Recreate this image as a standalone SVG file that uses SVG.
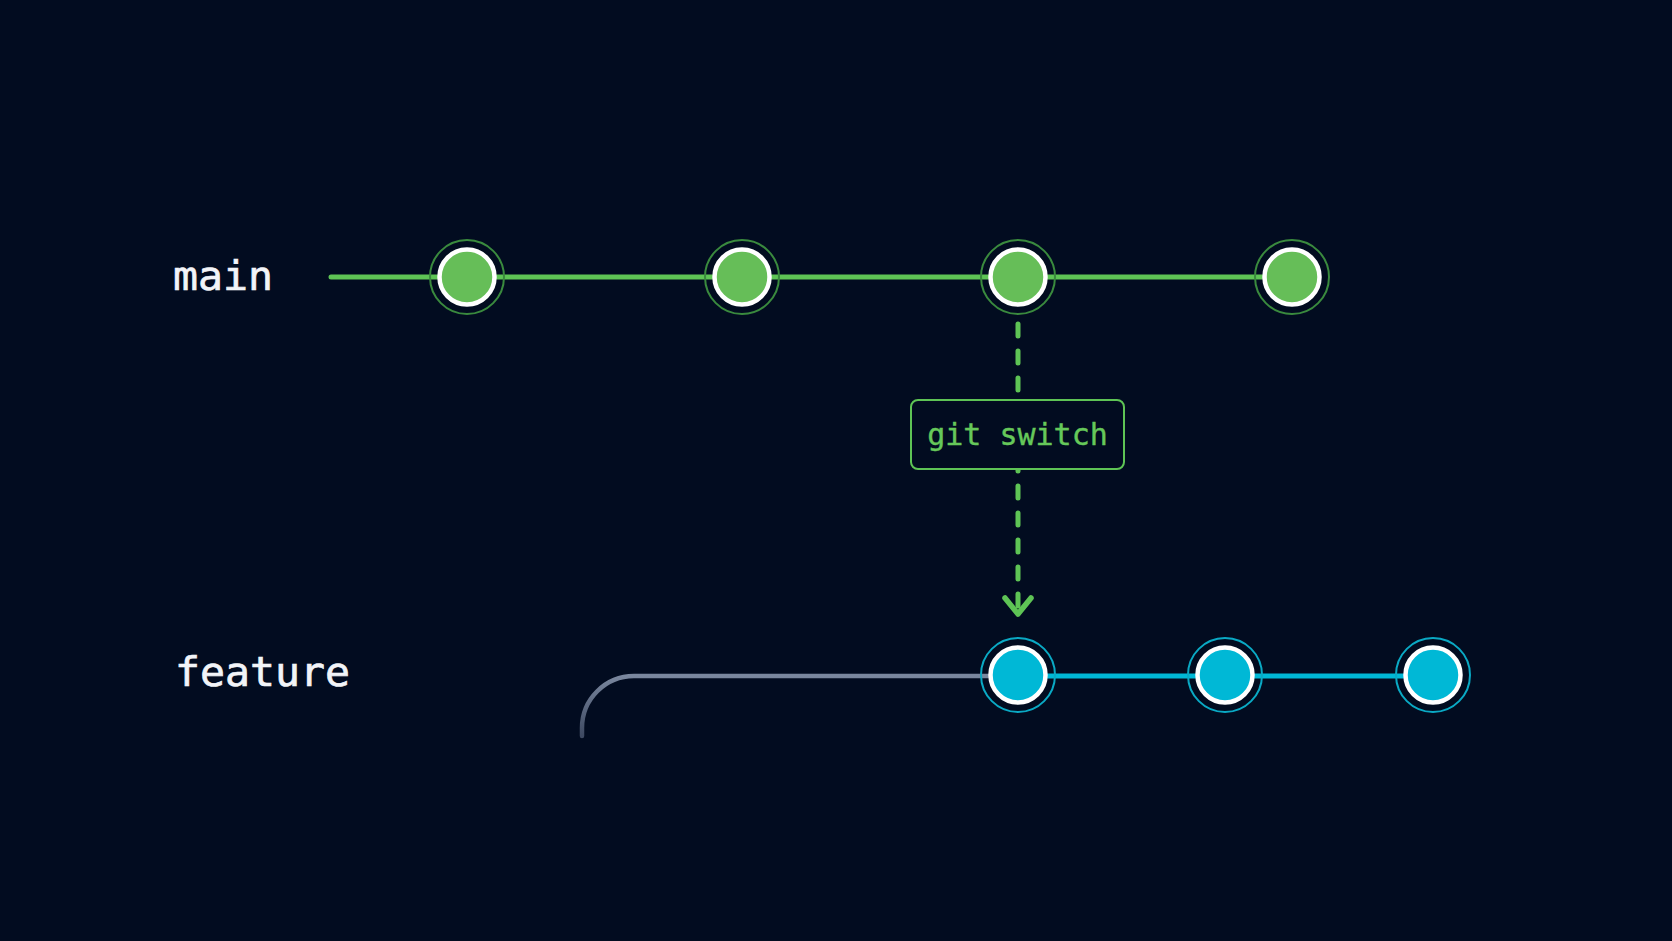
<svg xmlns="http://www.w3.org/2000/svg" width="1672" height="941" viewBox="0 0 1672 941">
<style>
.label{font-family:"DejaVu Sans Mono","Liberation Mono",monospace;font-size:41.5px;fill:#f2f4f8;stroke:#f2f4f8;stroke-width:0.7}
.cmd{font-family:"DejaVu Sans Mono","Liberation Mono",monospace;font-size:30px;fill:#66c85a;stroke:#66c85a;stroke-width:0.4}
.ringG{fill:none;stroke:#3a8a3e;stroke-width:2}
.ringC{fill:none;stroke:#0aa9c4;stroke-width:2}
.dotG{fill:#66be58;stroke:#ffffff;stroke-width:4.5}
.dotC{fill:#00b8d6;stroke:#ffffff;stroke-width:4.5}
</style>
<defs>
<linearGradient id="fade" x1="0" y1="0" x2="0" y2="1" gradientUnits="objectBoundingBox">
<stop offset="0" stop-color="#7a879e"/>
<stop offset="1" stop-color="#3e4a62"/>
</linearGradient>
</defs>
<rect width="1672" height="941" fill="#020c20"/>
<text class="label" x="173" y="290">main</text>
<text class="label" x="175" y="686">feature</text>
<g id="connectors" fill="none" stroke-linecap="round" stroke-linejoin="round">
<line x1="331" y1="277" x2="1292" y2="277" stroke="#5ec455" stroke-width="5"/>
<path d="M582 736 L582 728 A52 52 0 0 1 634 676 L1018 676" stroke="url(#fade)" stroke-width="4.5"/>
<path d="M1018 676 L1434 676" stroke="#00b8d6" stroke-width="5"/>
<line x1="1018" y1="324" x2="1018" y2="610" stroke="#5ec455" stroke-width="5" stroke-dasharray="12 15"/>
<polyline points="1005,598 1018,614 1031,598" stroke="#5ec455" stroke-width="5.5"/>
</g>
<g id="switch-label">
<rect x="911" y="400" width="213" height="69" rx="7" fill="#020c20" stroke="#5ec455" stroke-width="2"/>
<text class="cmd" x="1017.5" y="445" text-anchor="middle">git switch</text>
</g>
<g id="main-1"><circle class="ringG" cx="467" cy="277" r="37"/><circle class="dotG" cx="467" cy="277" r="27.5"/></g>
<g id="main-2"><circle class="ringG" cx="742" cy="277" r="37"/><circle class="dotG" cx="742" cy="277" r="27.5"/></g>
<g id="main-3"><circle class="ringG" cx="1018" cy="277" r="37"/><circle class="dotG" cx="1018" cy="277" r="27.5"/></g>
<g id="main-4"><circle class="ringG" cx="1292" cy="277" r="37"/><circle class="dotG" cx="1292" cy="277" r="27.5"/></g>
<g id="feature-1"><circle class="ringC" cx="1018" cy="675" r="37"/><circle class="dotC" cx="1018" cy="675" r="27.5"/></g>
<g id="feature-2"><circle class="ringC" cx="1225" cy="675" r="37"/><circle class="dotC" cx="1225" cy="675" r="27.5"/></g>
<g id="feature-3"><circle class="ringC" cx="1433" cy="675" r="37"/><circle class="dotC" cx="1433" cy="675" r="27.5"/></g>
</svg>
